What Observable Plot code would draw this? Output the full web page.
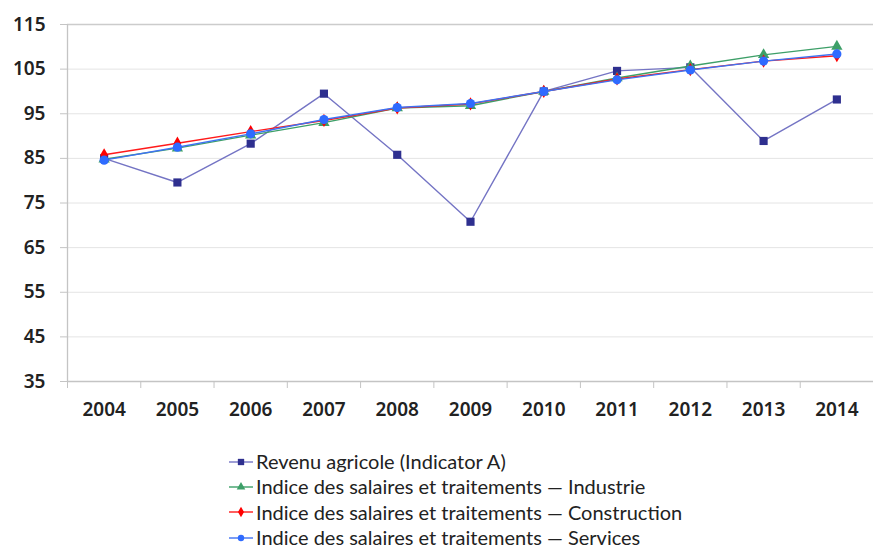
<!DOCTYPE html>
<html><head><meta charset="utf-8">
<script src="https://cdn.jsdelivr.net/npm/d3@7"></script>
<script src="https://cdn.jsdelivr.net/npm/@observablehq/plot@0.6"></script>
<style>
body{margin:0;background:#fff;font-family:Lato,"Open Sans",sans-serif;color:#222}
#legend{margin-left:229px;margin-top:9px;font-size:20px;line-height:25.4px}
#legend .it{display:flex;align-items:center;height:25.4px}
#legend svg{margin-right:3px}
</style></head><body>
<div id="chart"></div>
<div id="legend"></div>
<script>
const years=[2004,2005,2006,2007,2008,2009,2010,2011,2012,2013,2014];
const revenu=[85,79.6,88.3,99.5,85.8,70.8,100,104.6,105.4,88.9,98.2];
const industrie=[84.8,87.3,90.2,93.0,96.3,96.8,100,103.0,105.7,108.2,110.1];
const construction=[85.8,88.4,91.0,93.5,96.3,97.2,100,102.8,104.9,106.8,108.0];
const services=[84.6,87.5,90.5,93.7,96.4,97.3,100,102.6,104.8,106.8,108.4];
const yTicks=[35,45,55,65,75,85,95,105,115];
const seriesNames=["Revenu agricole (Indicator A)","Indice des salaires et traitements — Industrie","Indice des salaires et traitements — Construction","Indice des salaires et traitements — Services"];
const seriesValues=[revenu,industrie,construction,services];
const lineColors=["#7474c4","#3d9f68","#ff1a1a","#3f72f2"];
const markColors=["#2e2f8f","#3d9f68","#ff0000","#2f6bff"];
const symbols=["square","triangle","diamond","circle"];
const markR=[4.6,4.2,4,4.6];

const data=seriesValues.flatMap((vals,i)=>vals.map((v,j)=>({s:i,year:years[j],v})));
const boundaries=[years[0]-0.5,...years.map(y=>y+0.5)];

const marks=[
  Plot.gridY(yTicks.slice(1,-1),{stroke:"#e4e4e4",strokeOpacity:1}),
  Plot.ruleY([yTicks[yTicks.length-1]],{stroke:"#cccccc",strokeWidth:1.6}),
  Plot.ruleY([yTicks[0]],{stroke:"#c4c4c4",strokeWidth:1.3}),
  Plot.ruleX([boundaries[0]],{stroke:"#c4c4c4",strokeWidth:1.3}),
  Plot.axisY({ticks:yTicks,tickSize:7,tickPadding:15,fontSize:19,fontWeight:600,stroke:"#c4c4c4",fill:"#222",label:null,tickFormat:d=>String(d)}),
  Plot.axisX({ticks:boundaries,tickSize:7,stroke:"#c4c4c4",text:null,label:null}),
  Plot.axisX({ticks:years,tickSize:0,tickPadding:21,fontSize:19,fontWeight:600,fill:"#222",label:null,tickFormat:d=>String(d)})
];
[0,1,2,3].forEach(i=>{
  const d=data.filter(e=>e.s===i);
  marks.push(Plot.line(d,{x:"year",y:"v",stroke:lineColors[i],strokeWidth:1.4}));
});
[0,1,2,3].forEach(i=>{
  const d=data.filter(e=>e.s===i);
  marks.push(Plot.dot(d,{x:"year",y:"v",symbol:()=>symbols[i],r:markR[i],fill:markColors[i],stroke:"none"}));
});

const chart=Plot.plot({
  width:873,height:440,marginLeft:67,marginRight:0,marginTop:24,marginBottom:59,
  x:{type:"linear",domain:[boundaries[0],boundaries[boundaries.length-1]],label:null},
  y:{domain:[yTicks[0],yTicks[yTicks.length-1]],label:null},
  symbol:{type:"identity"},
  marks
});
document.getElementById("chart").appendChild(chart);

const leg=document.getElementById("legend");
seriesNames.forEach((n,i)=>{
  const it=document.createElement("div");it.className="it";
  const sym=d3.symbol(symbols[i]==="square"?d3.symbolSquare:symbols[i]==="triangle"?d3.symbolTriangle:symbols[i]==="diamond"?d3.symbolDiamond:d3.symbolCircle, i===0?40:32)();
  it.innerHTML=`<svg width="24" height="12"><line x1="0" x2="24" y1="6" y2="6" stroke="${lineColors[i]}" stroke-width="1.4"/><path transform="translate(12,6)" d="${sym}" fill="${markColors[i]}"/></svg><span>${n}</span>`;
  leg.appendChild(it);
});
</script>
</body></html>
